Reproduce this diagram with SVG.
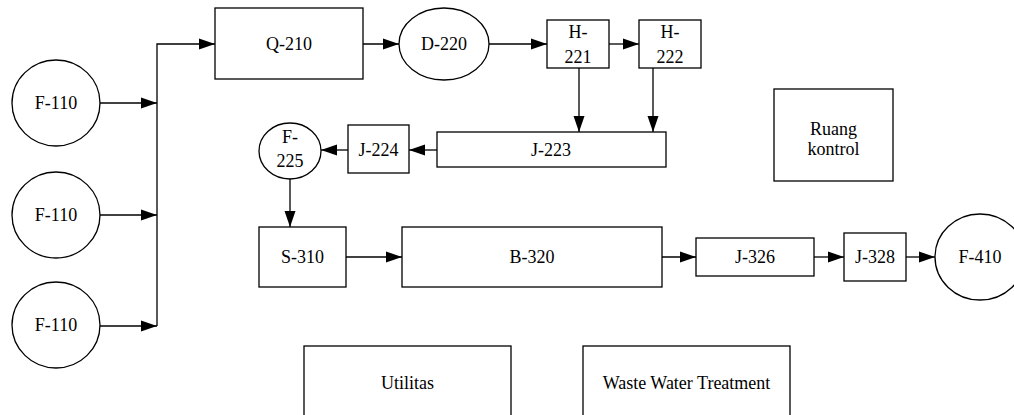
<svg xmlns="http://www.w3.org/2000/svg" width="1014" height="415" viewBox="0 0 1014 415">
<style>
.n{fill:#fff;stroke:#000;stroke-width:1.3}
.t{font-family:"Liberation Serif","Times New Roman",serif;font-size:18px;fill:#000;text-anchor:middle}
.c{fill:none;stroke:#000;stroke-width:1.3}
</style>
<defs>
<marker id="a" markerUnits="userSpaceOnUse" markerWidth="16" markerHeight="12" refX="16" refY="5.5" orient="auto" viewBox="0 0 16 11">
<path d="M0,0 L16,5.5 L0,11 z" fill="#000"/>
</marker>
</defs>
<rect width="1014" height="415" fill="#fff"/>
<g id="connectors">
<path class="c" d="M100,103 H157" marker-end="url(#a)"/>
<path class="c" d="M100,215 H157" marker-end="url(#a)"/>
<path class="c" d="M100,326 H157" marker-end="url(#a)"/>
<path class="c" d="M157,326 V44 H215" marker-end="url(#a)"/>
<path class="c" d="M363,44 H399" marker-end="url(#a)"/>
<path class="c" d="M489,44 H547" marker-end="url(#a)"/>
<path class="c" d="M609,44 H639" marker-end="url(#a)"/>
<path class="c" d="M579,68 V132" marker-end="url(#a)"/>
<path class="c" d="M653,68 V132" marker-end="url(#a)"/>
<path class="c" d="M437,150 H409" marker-end="url(#a)"/>
<path class="c" d="M348,150 H321" marker-end="url(#a)"/>
<path class="c" d="M290,179 V227" marker-end="url(#a)"/>
<path class="c" d="M346,257 H402" marker-end="url(#a)"/>
<path class="c" d="M662,257 H696" marker-end="url(#a)"/>
<path class="c" d="M814,257 H844" marker-end="url(#a)"/>
<path class="c" d="M906,257 H935" marker-end="url(#a)"/>
</g>
<g id="F-110a"><ellipse class="n" cx="56" cy="103" rx="44" ry="43"/><text class="t" x="56" y="109">F-110</text></g>
<g id="F-110b"><ellipse class="n" cx="56" cy="215" rx="44" ry="43"/><text class="t" x="56" y="221">F-110</text></g>
<g id="F-110c"><ellipse class="n" cx="56" cy="325" rx="44" ry="43"/><text class="t" x="56" y="331">F-110</text></g>
<g id="Q-210"><rect class="n" x="215" y="8" width="148" height="71"/><text class="t" x="289" y="50">Q-210</text></g>
<g id="D-220"><ellipse class="n" cx="444" cy="44" rx="45" ry="36"/><text class="t" x="444" y="50">D-220</text></g>
<g id="H-221"><rect class="n" x="547" y="20" width="62" height="48"/><text class="t" x="578" y="38">H-</text><text class="t" x="578" y="63">221</text></g>
<g id="H-222"><rect class="n" x="639" y="20" width="62" height="48"/><text class="t" x="670" y="38">H-</text><text class="t" x="670" y="63">222</text></g>
<g id="J-223"><rect class="n" x="437" y="132" width="229" height="35"/><text class="t" x="551" y="156">J-223</text></g>
<g id="J-224"><rect class="n" x="348" y="125" width="61" height="48"/><text class="t" x="378.5" y="156">J-224</text></g>
<g id="F-225"><ellipse class="n" cx="290" cy="151" rx="31" ry="28"/><text class="t" x="290" y="143">F-</text><text class="t" x="290" y="167">225</text></g>
<g id="S-310"><rect class="n" x="259" y="227" width="87" height="60"/><text class="t" x="302.5" y="263">S-310</text></g>
<g id="B-320"><rect class="n" x="402" y="227" width="260" height="60"/><text class="t" x="532" y="263">B-320</text></g>
<g id="J-326"><rect class="n" x="696" y="238" width="118" height="38"/><text class="t" x="755" y="263">J-326</text></g>
<g id="J-328"><rect class="n" x="844" y="233" width="62" height="48"/><text class="t" x="875" y="263">J-328</text></g>
<g id="F-410"><ellipse class="n" cx="980" cy="257" rx="45" ry="43"/><text class="t" x="980" y="263">F-410</text></g>
<g id="Ruang-kontrol"><rect class="n" x="774" y="89" width="119" height="92"/><text class="t" x="833.5" y="135">Ruang</text><text class="t" x="833.5" y="155">kontrol</text></g>
<g id="Utilitas"><rect class="n" x="304" y="346" width="207" height="80"/><text class="t" x="407.5" y="389">Utilitas</text></g>
<g id="Waste-Water-Treatment"><rect class="n" x="583" y="346" width="207" height="80"/><text class="t" x="686.5" y="389">Waste Water Treatment</text></g>
</svg>
